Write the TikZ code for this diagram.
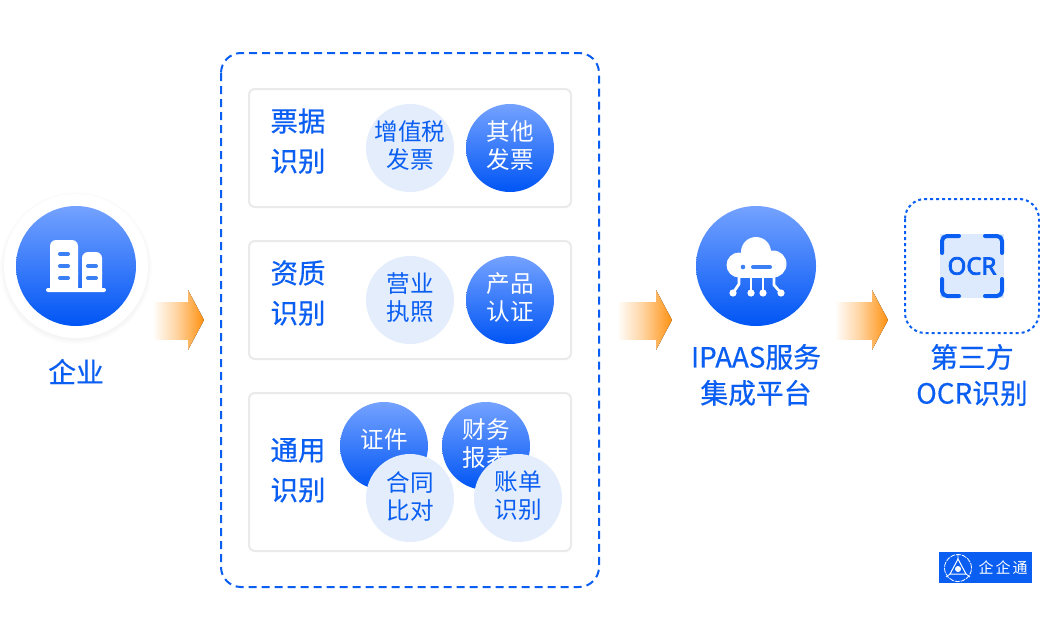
\documentclass[tikz,border=0pt]{standalone}
\usepackage{fontspec}
\setmainfont{Noto Sans CJK SC}
\newfontfamily\medfont[FakeBold=0.5]{Noto Sans CJK SC}
\newfontfamily\ocrfont[FakeBold=3.2]{Noto Sans}
\definecolor{qblue}{HTML}{0A5FF2}
\definecolor{qtop}{HTML}{74A2FF}
\definecolor{qbottom}{HTML}{0055F5}
\definecolor{qlight}{HTML}{E4EDFC}
\definecolor{qborder}{HTML}{EAEAEA}
\definecolor{qorange}{HTML}{FF9110}
\pgfdeclarehorizontalshading{arrowfade}{100bp}{color(0bp)=(white); color(29bp)=(white); color(50bp)=(qorange!38!white); color(75bp)=(qorange); color(100bp)=(qorange)}
\tikzset{
  bigtext/.style={text=qblue,align=center,inner sep=0,font=\medfont\fontsize{27.8}{36}\selectfont},
  titletext/.style={text=qblue,align=center,inner sep=0,font=\medfont\fontsize{27.5}{40}\selectfont},
  darkdisc/.style={circle,minimum size=88pt,inner sep=0,top color=qtop,bottom color=qbottom},
  lightdisc/.style={circle,minimum size=88pt,inner sep=0,fill=qlight},
  disctext/.style={align=center,inner sep=0,yshift=2pt,font=\fontsize{23.6}{28}\selectfont},
  bigdisc/.style={circle,minimum size=120pt,inner sep=0,top color=qtop,bottom color=qbottom},
  cardbox/.style={draw=qborder,line width=2pt,rounded corners=6pt,fill=white},
}
\begin{document}
\begin{tikzpicture}[x=1pt,y=-1pt]
\useasboundingbox (0,0) rectangle (1040,640);
\fill[white] (0,0) rectangle (1040,640);

% enterprise
\foreach \r in {76,75,74,73,72}
{
\fill[black,opacity=0.007] (76,268) circle (\r pt);
}
\fill[white] (76,266) circle (72pt);
\node[bigdisc] (company) at (76,266) {};
\fill[white,rounded corners=6pt] (50,280) -- (50,240) -- (78,240) -- (78,280) -- cycle;
\fill[white,rounded corners=6pt] (82,280) -- (82,252) -- (102,252) -- (102,280) -- cycle;
\fill[white] (50,272) rectangle (78,289) (82,272) rectangle (102,289);
\fill[white,rounded corners=2pt] (46,288) rectangle (106,292);
\foreach \y in {254,266,278}
{
\draw[line width=4pt,line cap=round,color=qblue!80] (60,\y) -- (68,\y);
}
\foreach \y in {266,278}
{
\draw[line width=4pt,line cap=round,color=qblue!80] (88,\y) -- (96,\y);
}
\node[bigtext] (companytext) at (76,371.5) {企业};

% arrows
\foreach \a/\b/\c in {148/188/204,612/656/672,830/872/888}
{
\fill[shading=arrowfade] (\a,302) -- (\b,302) -- (\b,290) -- (\c,320) -- (\b,350) -- (\b,340) -- (\a,340) -- cycle;
\draw[white,line width=1pt] (\a-1,301.5) -- (\b-0.5,301.5) (\a-1,340.5) -- (\b-0.5,340.5);
}

% recognition group
\draw[qblue,line width=2pt,dash pattern=on 8pt off 5pt,rounded corners=20pt] (221,53) rectangle (599,587);
\draw[cardbox] (249,89) rectangle (571,207);
\draw[cardbox] (249,241) rectangle (571,359);
\draw[cardbox] (249,393) rectangle (571,551);

\node[titletext] (bill) at (298,141) {票据\\识别};
\node[titletext] (qualify) at (298,293) {资质\\识别};
\node[titletext] (common) at (298,470.3) {通用\\识别};

\node[lightdisc] (vat) at (410,148) {};
\node[disctext,text=qblue] (vattext) at (vat) {增值税\\发票};
\node[darkdisc] (other) at (510,148) {};
\node[disctext,text=white] (othertext) at (other) {其他\\发票};
\node[lightdisc] (license) at (410,300) {};
\node[disctext,text=qblue] (licensetext) at (license) {营业\\执照};
\node[darkdisc] (product) at (510,300) {};
\node[disctext,text=white] (producttext) at (product) {产品\\认证};
\node[darkdisc] (card) at (384,446) {};
\node[disctext,text=white,yshift=4pt] (cardtext) at (card) {证件};
\node[darkdisc] (report) at (486,446) {};
\node[disctext,text=white] (reporttext) at (report) {财务\\报表};
\node[lightdisc] (contrast) at (410,498) {};
\node[disctext,text=qblue] (contrasttext) at (contrast) {合同\\比对};
\node[lightdisc] (account) at (518,498) {};
\node[disctext,text=qblue] (accounttext) at (account) {账单\\识别};

% platform
\node[bigdisc] (ipaas) at (756,266) {};
\fill[white] (739,265) circle (12.5pt) (756,252) circle (15pt) (773,264) circle (13.5pt);
\fill[white] (739,262) rectangle (773,277.5);
\fill[qblue!80] (743,267) circle (2.3pt);
\draw[line width=4pt,line cap=round,color=qblue!80] (753,267) -- (770,267);
\draw[white,line width=2.8pt] (739,276) -- (739,284) -- (733,293);
\draw[white,line width=2.8pt] (751,276) -- (751,293);
\draw[white,line width=2.8pt] (763,276) -- (763,293);
\draw[white,line width=2.8pt] (774,276) -- (774,285) -- (781,293);
\foreach \x in {733,751,763,781}
{
\fill[white] (\x,293) circle (3.6pt);
}
\node[bigtext] (ipaastext) at (756,375) {IPAAS服务\\集成平台};

% third party
\draw[qblue,line width=2pt,dash pattern=on 3pt off 3pt,rounded corners=20pt] (905,199) rectangle (1039,333);
\fill[qblue!14] (940,234) rectangle (1004,298);
\foreach \sx/\sy in {1/1,-1/1,1/-1,-1/-1}
{
\draw[qblue,line width=4pt,line cap=round,rounded corners=5pt] (972-30*\sx,266-13*\sy) -- (972-30*\sx,266-30*\sy) -- (972-13*\sx,266-30*\sy);
}
\node[text=qblue,inner sep=0,font=\ocrfont\fontsize{24}{24}\selectfont] (ocr) at (972,266) {OCR};
\node[bigtext] (ocrtext) at (972,375) {第三方\\OCR识别};

% badge
\fill[qblue] (939,552) rectangle (1032,583);
\draw[white,line width=0.8pt,dash pattern=on 5pt off 1pt] (958,568) circle (13.5pt);
\draw[white,line width=1pt] (958,559) -- (950,574) -- (966,574) -- cycle;
\fill[white] (958,569) circle (3pt);
\draw[white,line width=0.8pt] (958,554) -- (958,559) (950,574) -- (946,577) (966,574) -- (970,577);
\node[text=white,inner sep=0,font=\fontsize{15}{15}\selectfont] (brand) at (1003,568) {企\hspace{2pt}企\hspace{2pt}通};
\end{tikzpicture}
\end{document}
